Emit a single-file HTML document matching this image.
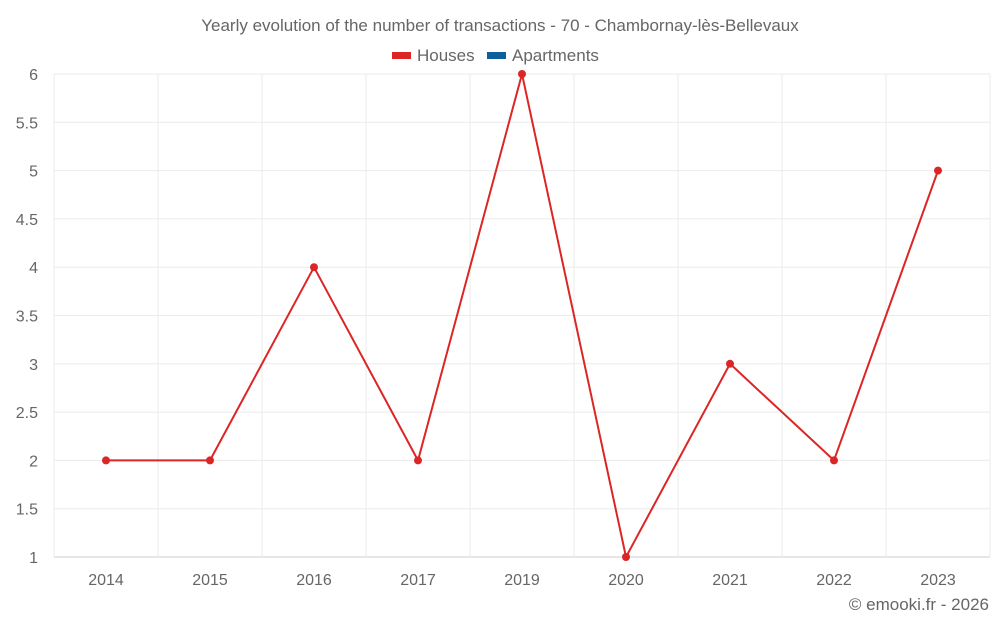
<!DOCTYPE html>
<html><head><meta charset="utf-8"><style>
body{margin:0;background:#fff;font-family:"Liberation Sans",sans-serif;}
svg text{font-family:"Liberation Sans",sans-serif;fill:#666;}
</style></head><body>
<svg id="c" width="1000" height="625">
<text x="500" y="31" text-anchor="middle" font-size="17">Yearly evolution of the number of transactions - 70 - Chambornay-lès-Bellevaux</text>
<g>
<g><rect x="392" y="52" width="19" height="7" fill="#dc2626"/><text x="417" y="61" font-size="17">Houses</text></g>
<g><rect x="487" y="52" width="19" height="7" fill="#0d5f9e"/><text x="512" y="61" font-size="17">Apartments</text></g>
</g>
<g id="grid"></g>
<g id="axes"></g>
<g id="series"></g>
<text x="989" y="610" text-anchor="end" font-size="17">© emooki.fr - 2026</text>
</svg>
<script>
const categories=["2014","2015","2016","2017","2019","2020","2021","2022","2023"];
const houses=[2,2,4,2,6,1,3,2,5];
const yTicks=[1,1.5,2,2.5,3,3.5,4,4.5,5,5.5,6];
const NS="http://www.w3.org/2000/svg";
const L=54,R=990,T=74,B=557,yMin=1,yMax=6;
const bw=(R-L)/categories.length;
const x=i=>L+bw*(i+0.5);
const y=v=>B-(v-yMin)/(yMax-yMin)*(B-T);
function mk(tag,at,parent){const e=document.createElementNS(NS,tag);for(const k in at)e.setAttribute(k,at[k]);parent.appendChild(e);return e;}
const g=document.getElementById('grid'),a=document.getElementById('axes'),s=document.getElementById('series');
yTicks.forEach(t=>{
 const l=mk('line',{x1:L,x2:R,y1:y(t),y2:y(t),stroke:t===yMin?'#ccc':'#ebebeb','stroke-width':1},g);
 
 
 const tx=mk('text',{x:38,y:y(t)+6,'text-anchor':'end','font-size':16},a);
 tx.textContent=t;
 
 
});
for(let i=0;i<=categories.length;i++){
 const l=mk('line',{x1:L+bw*i,x2:L+bw*i,y1:T,y2:B,stroke:'#ebebeb','stroke-width':1},g);
 
 
}
categories.forEach((c,i)=>{
 const tx=mk('text',{x:x(i),y:585,'text-anchor':'middle','font-size':16},a);
 tx.textContent=c;
 
 
});
const p=mk('polyline',{points:houses.map((v,i)=>x(i)+','+y(v)).join(' '),fill:'none',stroke:'#dc2626','stroke-width':2},s);


houses.forEach((v,i)=>{
 const c=mk('circle',{cx:x(i),cy:y(v),r:4,fill:'#dc2626'},s);
 
 
});
</script>
</body></html>
